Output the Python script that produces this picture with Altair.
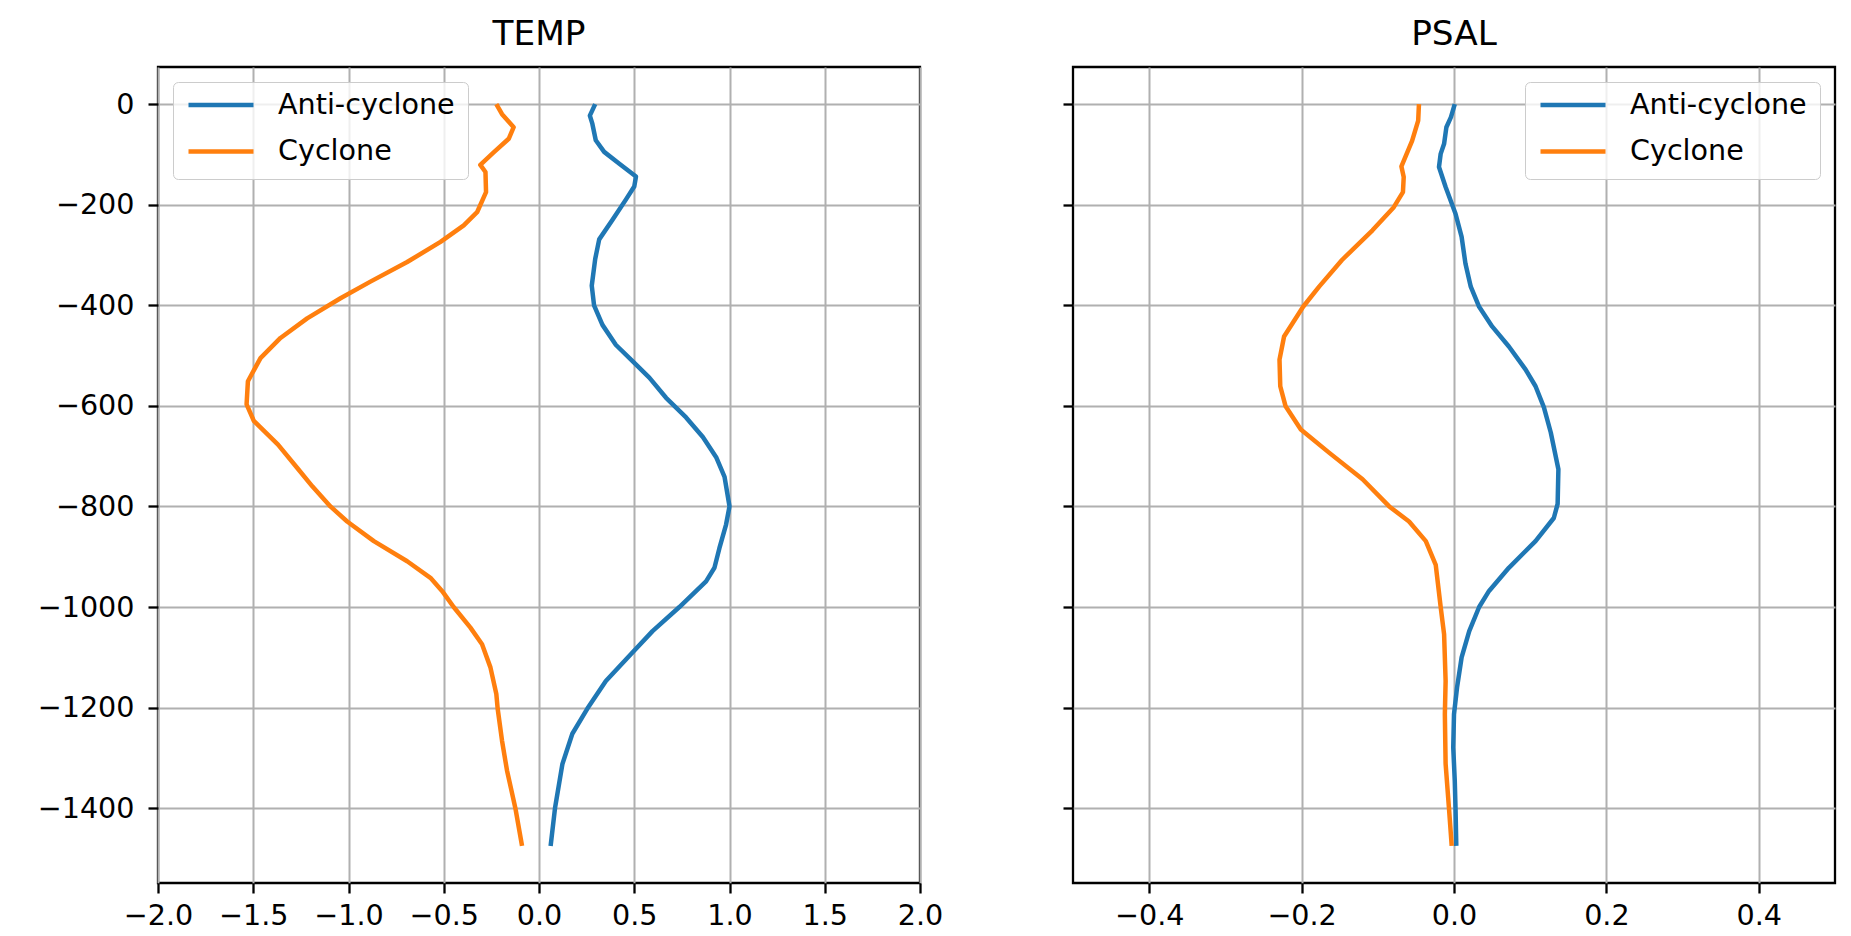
import altair as alt
import pandas as pd

series_names = ["Anti-cyclone", "Cyclone"]
series_colors = ["#1f77b4", "#ff7f0e"]

# TEMP panel
temp_anti_depth = [0, -23, -39, -72, -95, -118, -144, -164, -190, -230, -269, -308, -361, -400,
                   -439, -479, -511, -544, -584, -623, -662, -702, -741, -800, -836, -883, -922,
                   -949, -1000, -1048, -1094, -1147, -1202, -1252, -1312, -1400, -1475]
temp_anti_value = [0.295, 0.267, 0.28, 0.298, 0.342, 0.42, 0.509, 0.50, 0.456, 0.386, 0.316, 0.295,
                   0.277, 0.289, 0.333, 0.404, 0.491, 0.579, 0.667, 0.772, 0.86, 0.93, 0.974, 1.0,
                   0.982, 0.947, 0.921, 0.877, 0.737, 0.596, 0.482, 0.351, 0.254, 0.175, 0.123,
                   0.084, 0.061]

temp_cyc_depth = [0, -20, -46, -69, -96, -121, -135, -175, -215, -241, -274, -314, -353, -386, -426,
                  -465, -505, -551, -597, -630, -677, -723, -760, -800, -830, -869, -909, -942, -968,
                  -1000, -1041, -1074, -1120, -1173, -1202, -1266, -1325, -1400, -1475]
temp_cyc_value = [-0.224, -0.194, -0.133, -0.159, -0.238, -0.308, -0.281, -0.278, -0.325, -0.395,
                  -0.517, -0.692, -0.885, -1.042, -1.217, -1.357, -1.462, -1.528, -1.535, -1.497,
                  -1.37, -1.27, -1.19, -1.095, -1.007, -0.867, -0.692, -0.57, -0.509, -0.448, -0.36,
                  -0.299, -0.255, -0.224, -0.217, -0.194, -0.168, -0.124, -0.089]

# PSAL panel
psal_anti_depth = [0, -26, -46, -79, -99, -125, -165, -218, -264, -317, -363, -403, -442, -482, -528,
                   -561, -603, -653, -726, -795, -823, -869, -922, -968, -1000, -1048, -1100, -1160,
                   -1213, -1279, -1345, -1400, -1475]
psal_anti_value = [0.001, -0.004, -0.010, -0.013, -0.0175, -0.0197, -0.011, 0.002, 0.010, 0.015,
                   0.022, 0.033, 0.050, 0.072, 0.094, 0.107, 0.118, 0.127, 0.137, 0.136, 0.131,
                   0.107, 0.072, 0.046, 0.033, 0.020, 0.010, 0.004, 0.0, -0.001, 0.001, 0.002, 0.003]

psal_cyc_depth = [0, -33, -73, -124, -145, -175, -205, -251, -310, -363, -403, -462, -508, -561, -601,
                  -647, -693, -746, -800, -830, -869, -916, -1000, -1054, -1147, -1213, -1312, -1400,
                  -1475]
psal_cyc_value = [-0.046, -0.047, -0.055, -0.069, -0.066, -0.067, -0.079, -0.107, -0.147, -0.177,
                  -0.198, -0.223, -0.229, -0.228, -0.221, -0.201, -0.164, -0.120, -0.085, -0.059,
                  -0.037, -0.024, -0.0175, -0.013, -0.011, -0.012, -0.011, -0.0066, -0.003]

y_ticks = [0, -200, -400, -600, -800, -1000, -1200, -1400]
temp_ticks = [-2.0, -1.5, -1.0, -0.5, 0.0, 0.5, 1.0, 1.5, 2.0]
psal_ticks = [-0.4, -0.2, 0.0, 0.2, 0.4]

FONT = "DejaVu Sans"
FS = 28.6


def build_df(pairs):
    rows = []
    for name, depths, values in pairs:
        for i, (d, v) in enumerate(zip(depths, values)):
            rows.append({"series": name, "depth": d, "value": v, "idx": i})
    return pd.DataFrame(rows)


temp_df = build_df([("Anti-cyclone", temp_anti_depth, temp_anti_value),
                    ("Cyclone", temp_cyc_depth, temp_cyc_value)])
psal_df = build_df([("Anti-cyclone", psal_anti_depth, psal_anti_value),
                    ("Cyclone", psal_cyc_depth, psal_cyc_value)])


def panel(df, title, xdomain, xticks, legend_orient, show_ylabels):
    return alt.Chart(df).mark_line(strokeWidth=4.5, strokeJoin="round").encode(
        x=alt.X("value:Q",
                scale=alt.Scale(domain=xdomain, nice=False, zero=False),
                axis=alt.Axis(values=xticks, format=".1f", title=None, labelPadding=8,
                              labelOverlap=False, labelFlush=False)),
        y=alt.Y("depth:Q",
                scale=alt.Scale(domain=[-1548.75, 73.75], nice=False, zero=False),
                axis=alt.Axis(values=y_ticks, format="d", title=None, labels=show_ylabels,
                              labelPadding=14, labelOverlap=False, labelFlush=False)),
        color=alt.Color("series:N",
                        scale=alt.Scale(domain=series_names, range=series_colors),
                        legend=alt.Legend(orient=legend_orient, title=None, offset=15,
                                          symbolType="stroke", symbolSize=4225,
                                          symbolStrokeWidth=4.5, labelFont=FONT,
                                          labelFontSize=FS, labelColor="black",
                                          labelLimit=500, clipHeight=20,
                                          labelOffset=22, rowPadding=17.4,
                                          padding=13, cornerRadius=5,
                                          fillColor="rgba(255,255,255,0.8)",
                                          strokeColor="#cccccc")),
        order=alt.Order("idx:Q"),
    ).properties(
        width=762, height=816,
        title=alt.TitleParams(text=title, font=FONT, fontSize=34.3, fontWeight="normal",
                              color="black", offset=-19, baseline="bottom", anchor="middle"),
    )


left = panel(temp_df, "TEMP", [-2, 2], temp_ticks, "top-left", True)
right = panel(psal_df, "PSAL", [-0.5, 0.5], psal_ticks, "top-right", False)

chart = alt.hconcat(left, right, spacing=116).resolve_legend(
    color="independent"
).properties(
    padding={"left": 28, "top": 8, "right": 0, "bottom": 0}
).configure_view(
    stroke="black", strokeWidth=2.3
).configure_axis(
    domain=False, grid=True, gridColor="#b0b0b0", gridWidth=2.0,
    tickColor="black", tickSize=10, tickWidth=2.3,
    labelFont=FONT, labelFontSize=FS, labelColor="black"
)

chart.save("out.html", embed_options={"renderer": "svg", "actions": False})
